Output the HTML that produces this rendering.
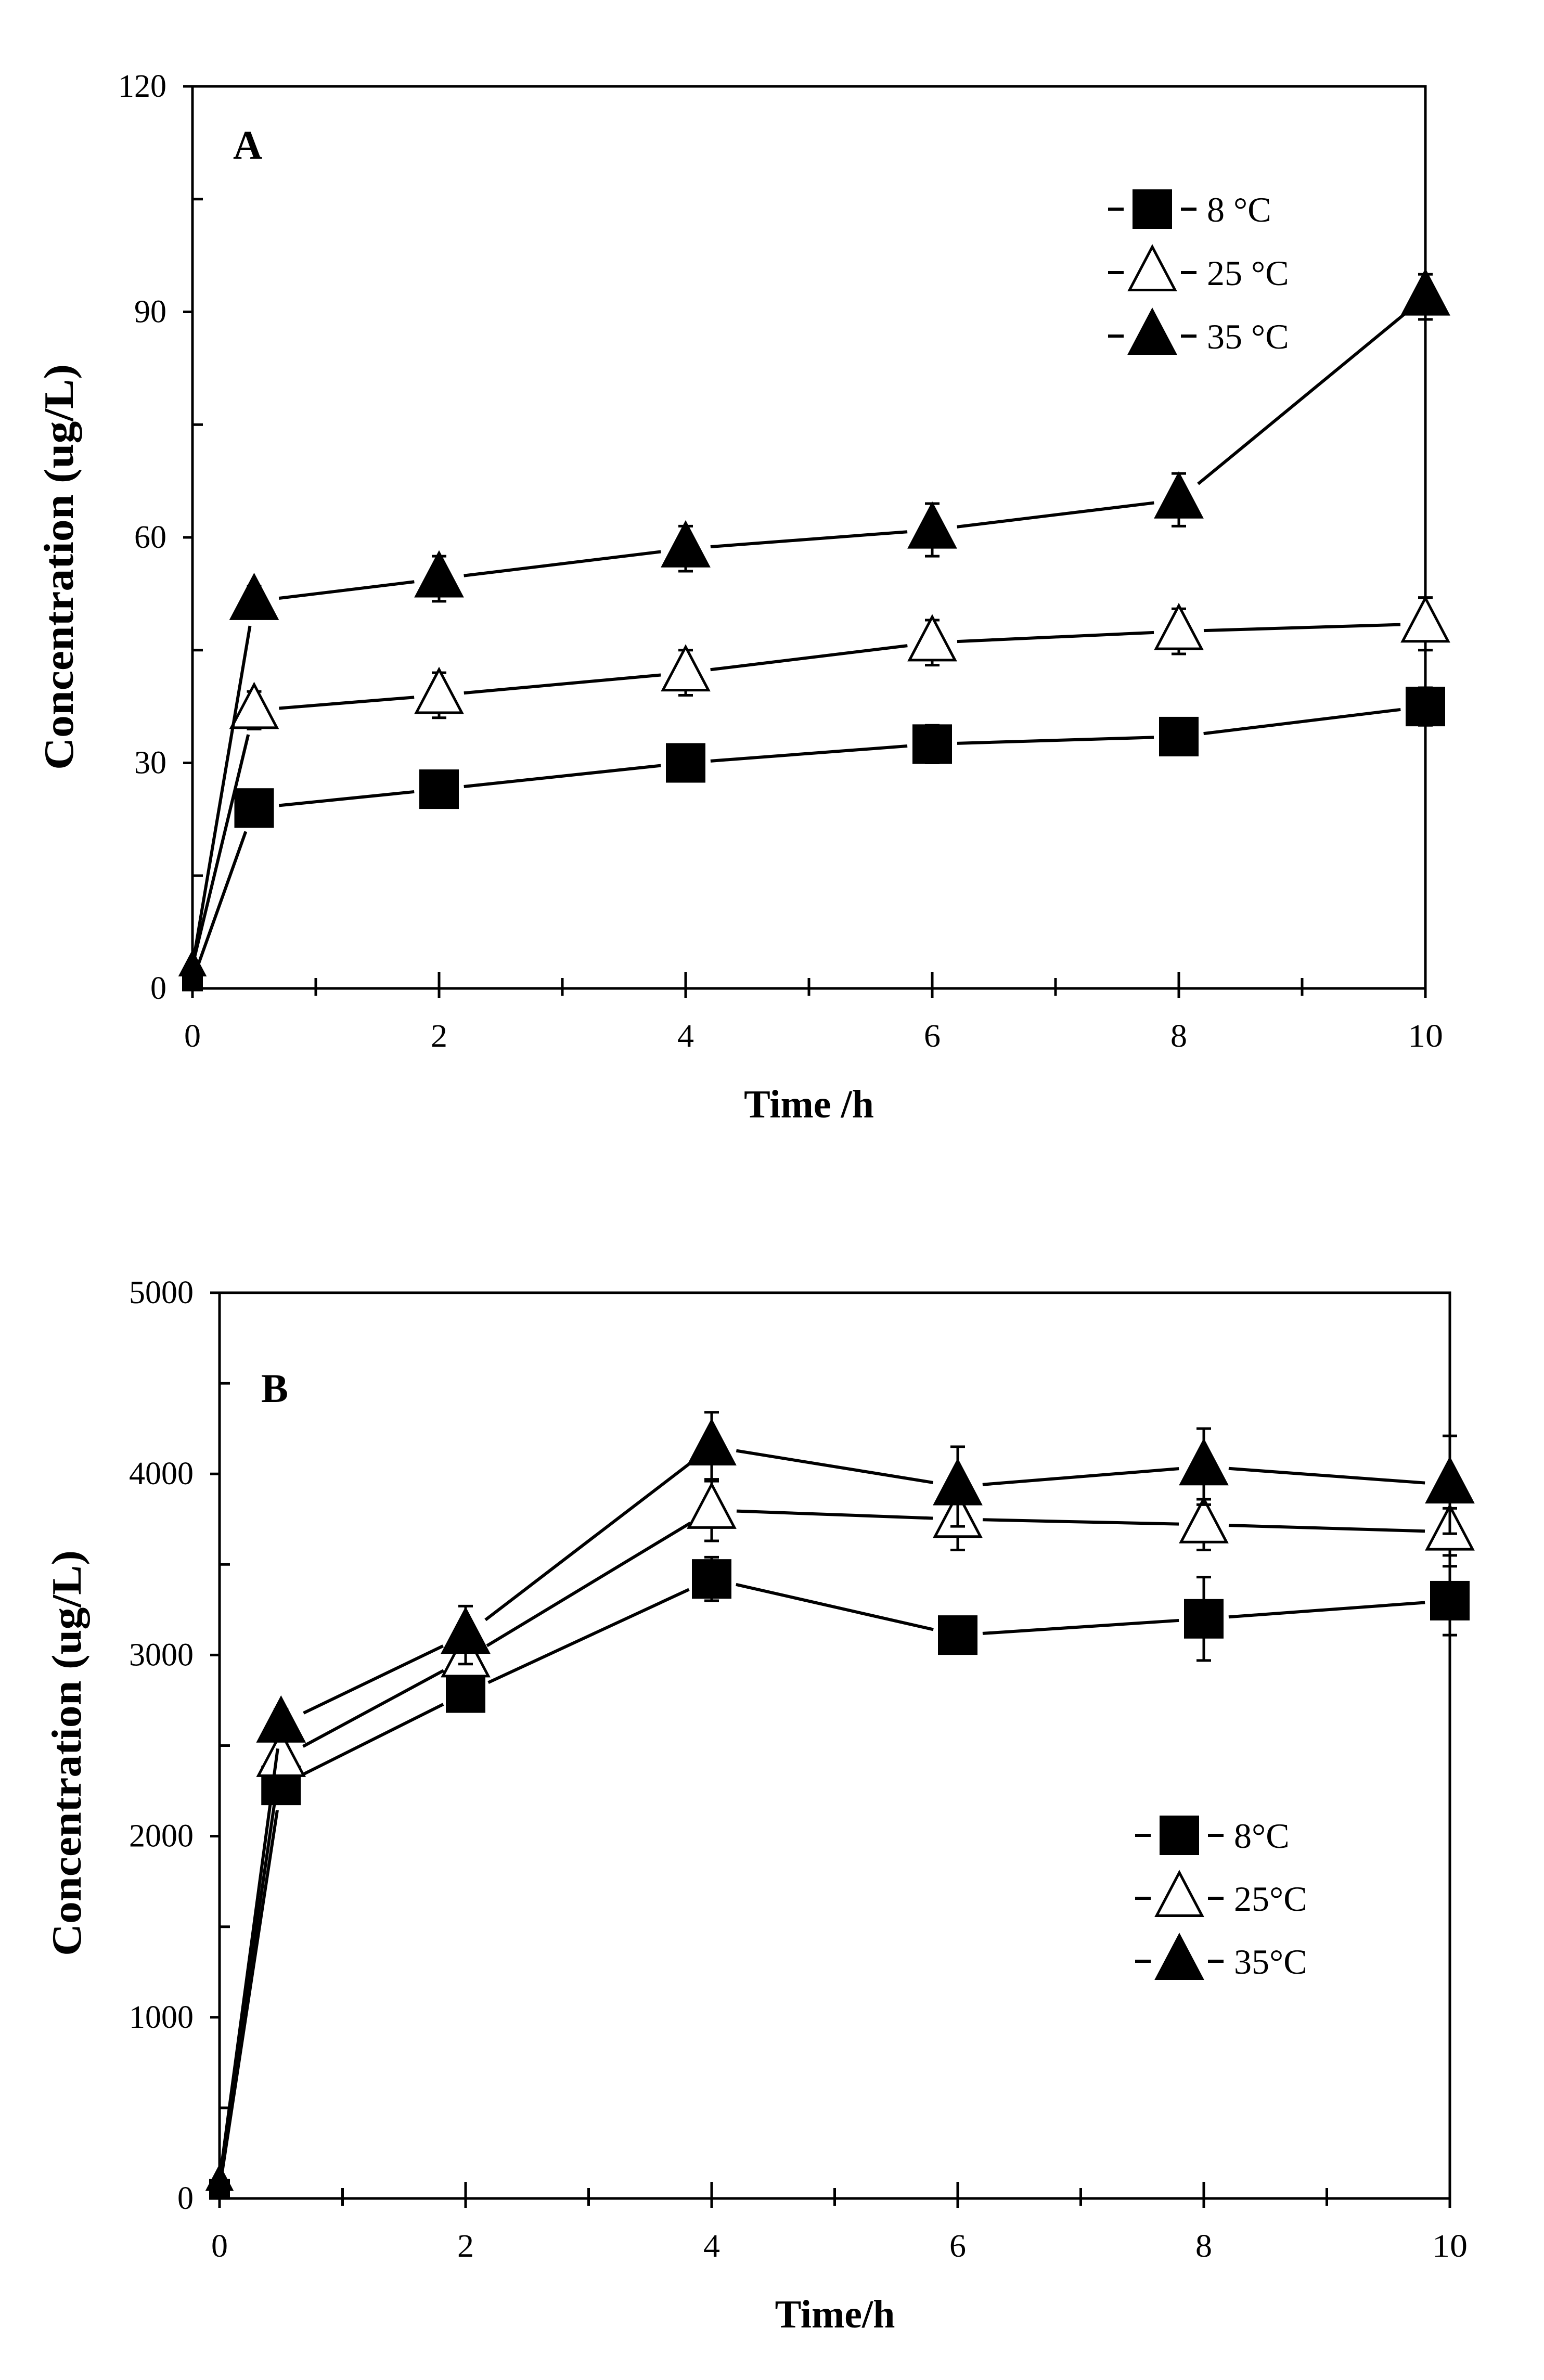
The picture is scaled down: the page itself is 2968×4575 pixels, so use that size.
<!DOCTYPE html>
<html><head><meta charset="utf-8">
<style>
html,body{margin:0;padding:0;background:#fff;}
svg{display:block;}
text{font-family:"Liberation Serif",serif;fill:#000;}
</style></head>
<body>
<svg id="fig" width="2968" height="4575" viewBox="0 0 2968 4575" xmlns="http://www.w3.org/2000/svg">
<rect width="2968" height="4575" fill="#fff"/>
</svg>
<script>
const times = [0, 0.5, 2, 4, 6, 8, 10];
const seriesNames = ["8 °C", "25 °C", "35 °C"];
const seriesNamesB = ["8°C", "25°C", "35°C"];
const a8 = [1, 24, 26.5, 30, 32.5, 33.5, 37.5];
const a25 = [3, 37, 39, 42, 46, 47.5, 48.5];
const a35 = [3, 51.5, 54.5, 58.5, 61, 65, 92];
const aErr8 = [0, 1, 1, 1, 2.5, 2, 2.5];
const aErr25 = [0, 2.5, 3, 3, 3, 3, 3.5];
const aErr35 = [0, 2, 3, 3, 3.5, 3.5, 3];
const b8 = [50, 2280, 2790, 3420, 3110, 3200, 3300];
const b25 = [100, 2430, 2980, 3800, 3750, 3720, 3680];
const b35 = [100, 2620, 3110, 4150, 3930, 4040, 3940];
const bErr8 = [0, 80, 100, 120, 100, 230, 190];
const bErr25 = [0, 80, 100, 170, 170, 140, 130];
const bErr35 = [0, 80, 160, 190, 220, 210, 270];
const xTicks = [0, 2, 4, 6, 8, 10];
const yTicksA = [0, 30, 60, 90, 120];
const yTicksB = [0, 1000, 2000, 3000, 4000, 5000];

const NS = "http://www.w3.org/2000/svg";
const svg = document.getElementById("fig");
function mk(tag, attrs, parent) {
  const e = document.createElementNS(NS, tag);
  for (const k in attrs) e.setAttribute(k, attrs[k]);
  (parent || svg).appendChild(e);
  return e;
}

function marker(g, type, cx, cy, s) {
  let e;
  if (type === 0) {
    e = mk("rect", {x: cx - s/2, y: cy - s/2, width: s, height: s, fill: "#000"}, g);
  } else {
    const h = s * 1.05, w = s * 1.15;
    e = mk("polygon", {points: `${cx},${cy - h*0.62} ${cx - w/2},${cy + h*0.42} ${cx + w/2},${cy + h*0.42}`,
      fill: type === 1 ? "#fff" : "#000", stroke: "#000", "stroke-width": 5}, g);
  }
  return e;
}

function panel(cfg) {
  const {x0, x1, y0, y1, ymax, yTicks, yMinorStep, series, errs, letter, letterPos, legend, legendNames, xTitle, prefix} = cfg;
  const X = v => x0 + (v / 10) * (x1 - x0);
  const Y = v => y0 - (v / ymax) * (y0 - y1);
  const g = mk("g", {});
  
  
  const frame = mk("rect", {x: x0, y: y1, width: x1 - x0, height: y0 - y1, fill: "none", stroke: "#000", "stroke-width": 5}, g);
  
  
  for (let t = 0; t <= 10; t++) {
    const major = t % 2 === 0;
    const tk = mk("line", {x1: X(t), x2: X(t), y1: y0, y2: y0 - (major ? 32 : 20), stroke: "#000", "stroke-width": 5}, g);
    
    
    const tk2 = mk("line", {x1: X(t), x2: X(t), y1: y0, y2: y0 + (major ? 18 : 14), stroke: "#000", "stroke-width": 5}, g);
    
    
  }
  xTicks.forEach(t => {
    const tx = mk("text", {x: X(t), y: y0 + 112, "font-size": 62, "text-anchor": "middle", textLength: t >= 10 ? 68 : 32, lengthAdjust: "spacingAndGlyphs"}, g);
    tx.textContent = t;
    
    
  });
  for (let v = 0; v <= ymax + 1e-9; v += yMinorStep) {
    const major = yTicks.some(t => Math.abs(t - v) < 1e-6);
    const tk = mk("line", {x1: x0 - (major ? 18 : 0), x2: x0 + (major ? 0 : 20), y1: Y(v), y2: Y(v), stroke: "#000", "stroke-width": 5}, g);
    
    
  }
  yTicks.forEach(t => {
    const tx = mk("text", {x: x0 - 50, y: Y(t) + 20, "font-size": 62, "text-anchor": "end"}, g);
    tx.textContent = t;
    
    
  });
  const xt = mk("text", {x: cfg.xTitleX, y: y0 + 248, "font-size": 76, "font-weight": "bold", "text-anchor": "middle"}, g);
  xt.textContent = xTitle;
  
  
  const ycx = cfg.yTitleX, ycy = cfg.yTitleY;
  const yt = mk("text", {x: ycx, y: ycy, "font-size": 80, "font-weight": "bold", "text-anchor": "middle", transform: `rotate(-90 ${ycx} ${ycy})`, textLength: 780, lengthAdjust: "spacingAndGlyphs"}, g);
  yt.textContent = "Concentration (ug/L)";
  
  
  const lt = mk("text", {x: letterPos[0], y: letterPos[1], "font-size": 78, "font-weight": "bold"}, g);
  lt.textContent = letter;
  
  
  const gap = 48;
  series.forEach((vals, si) => {
    const sg = mk("g", {}, g);
    
    
    for (let i = 0; i < times.length - 1; i++) {
      const ax = X(times[i]), ay = Y(vals[i]), bx = X(times[i + 1]), by = Y(vals[i + 1]);
      const dx = bx - ax, dy = by - ay, L = Math.hypot(dx, dy);
      const g0 = i === 0 ? 10 : gap;
      if (L <= g0 + gap) continue;
      const ln = mk("line", {x1: ax + dx / L * g0, y1: ay + dy / L * g0, x2: bx - dx / L * gap, y2: by - dy / L * gap, stroke: "#000", "stroke-width": 6}, sg);
      
      
    }
    vals.forEach((v, i) => {
      const e = errs[si][i];
      if (e > 0) {
        const eb = mk("path", {d: `M${X(times[i])},${Y(v)} V${Y(v + e)} M${X(times[i]) - 14},${Y(v + e)} H${X(times[i]) + 14} M${X(times[i])},${Y(v)} V${Y(v - e)} M${X(times[i]) - 14},${Y(v - e)} H${X(times[i]) + 14}`, stroke: "#000", "stroke-width": 5, fill: "none"}, sg);
        
        
      }
      const m = marker(sg, si, X(times[i]), Y(v), i === 0 ? 40 : 76);
      
      
    });
  });
  const lg = mk("g", {}, g);
  
  
  legendNames.forEach((n, i) => {
    const lx = legend[0], ly = legend[1] + i * legend[2];
    const eg = mk("g", {}, lg);
    
    
    mk("line", {x1: lx, x2: lx + 30, y1: ly, y2: ly, stroke: "#000", "stroke-width": 6}, eg);
    mk("line", {x1: lx + 140, x2: lx + 170, y1: ly, y2: ly, stroke: "#000", "stroke-width": 6}, eg);
    marker(eg, i, lx + 85, ly, 76);
    const tx = mk("text", {x: lx + 190, y: ly + 24, "font-size": 68}, eg);
    tx.textContent = n;
  });
}

panel({x0: 370, x1: 2740, y0: 1900, y1: 166, ymax: 120, yTicks: yTicksA, yMinorStep: 15,
  series: [a8, a25, a35], errs: [aErr8, aErr25, aErr35], letter: "A", letterPos: [448, 305],
  legend: [2130, 402, 122], legendNames: seriesNames, xTitle: "Time /h", xTitleX: 1555, yTitleX: 140, yTitleY: 1090, prefix: "panel-a"});
panel({x0: 422, x1: 2787, y0: 4226, y1: 2485, ymax: 5000, yTicks: yTicksB, yMinorStep: 500,
  series: [b8, b25, b35], errs: [bErr8, bErr25, bErr35], letter: "B", letterPos: [502, 2695],
  legend: [2182, 3528, 121], legendNames: seriesNamesB, xTitle: "Time/h", xTitleX: 1605, yTitleX: 155, yTitleY: 3370, prefix: "panel-b"});
</script>
</body></html>
